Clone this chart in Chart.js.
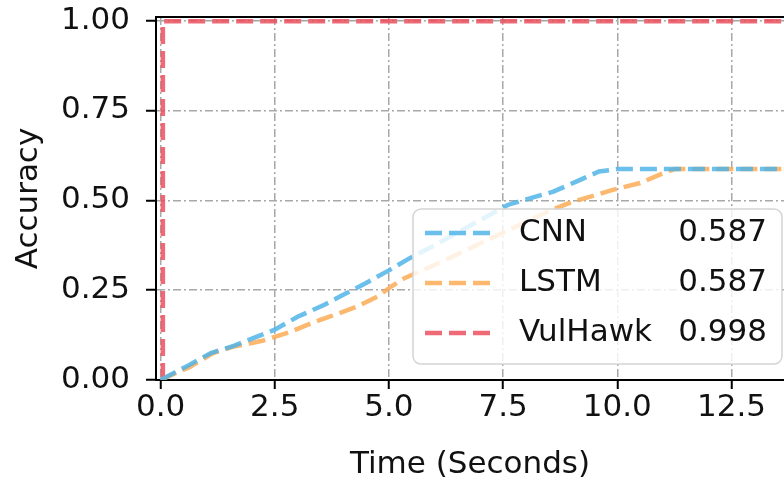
<!DOCTYPE html>
<html>
<head>
<meta charset="utf-8">
<script src="https://cdn.jsdelivr.net/npm/chart.js@4.4.1/dist/chart.umd.min.js"></script>
<style>
  body { margin: 0; background: #fff; }
  #wrap { width: 784px; height: 480px; }
</style>
</head>
<body>
<div id="wrap"><canvas id="accChart" width="784" height="480"></canvas></div>
<script>
// Séries (temps en secondes, précision)
const modelNames = ['CNN', 'LSTM', 'VulHawk'];
const finalAcc = [0.587, 0.587, 0.998];

const cnnTime = [0, 0.6, 1.1, 1.6, 2.0, 2.5, 3.0, 3.6, 4.0, 4.5, 5.0, 5.4, 6.0, 6.5, 7.0, 7.6, 8.1, 8.6, 9.1, 9.6, 10.0, 14.0];
const cnnAcc = [0, 0.04, 0.075, 0.095, 0.115, 0.14, 0.176, 0.21, 0.237, 0.27, 0.305, 0.335, 0.375, 0.41, 0.445, 0.487, 0.506, 0.524, 0.552, 0.58, 0.587, 0.587];

const lstmTime = [0, 0.65, 1.15, 1.6, 2.0, 2.25, 2.5, 2.85, 3.3, 3.7, 4.3, 4.75, 5.05, 5.35, 6.0, 6.5, 7.0, 7.5, 8.0, 8.5, 9.0, 9.3, 9.9, 10.5, 11.0, 11.25, 14.0];
const lstmAcc = [0, 0.037, 0.075, 0.093, 0.103, 0.11, 0.12, 0.134, 0.158, 0.176, 0.204, 0.232, 0.26, 0.284, 0.32, 0.35, 0.38, 0.41, 0.44, 0.47, 0.495, 0.506, 0.529, 0.548, 0.575, 0.587, 0.587];

const vulTime = [0.05, 0.05, 14.0];
const vulAcc = [0, 0.998, 0.998];

const xTicks = [0, 2.5, 5.0, 7.5, 10.0, 12.5];
const yTicks = [0, 0.25, 0.5, 0.75, 1.0];

const colors = ['rgba(80,180,232,0.85)', 'rgba(250,172,85,0.85)', 'rgba(236,80,95,0.85)'];

function toPoints(xs, ys) {
    return xs.map((x, i) => ({ x: x, y: ys[i] }));
}

const FONT = 'DejaVu Sans';

// Bordure du haut (le cadre de droite est coupé dans l'image)
const topBorder = {
    id: 'topBorder',
    afterDatasetsDraw(chart) {
        const { ctx, chartArea } = chart;
        ctx.save();
        ctx.strokeStyle = '#000';
        ctx.lineWidth = 2;
        ctx.beginPath();
        ctx.moveTo(chartArea.left - 1, chartArea.top);
        ctx.lineTo(chartArea.right, chartArea.top);
        ctx.stroke();
        ctx.restore();
    }
};

// Légende encadrée, avec la précision finale à droite
const boxLegend = {
    id: 'boxLegend',
    afterDatasetsDraw(chart) {
        const ctx = chart.ctx;
        const x = 413, y = 209, w = 369, h = 155;
        ctx.save();
        ctx.beginPath();
        ctx.roundRect(x, y, w, h, 8);
        ctx.fillStyle = 'rgba(255,255,255,0.82)';
        ctx.fill();
        ctx.strokeStyle = '#d4d4d4';
        ctx.lineWidth = 1.5;
        ctx.stroke();

        ctx.font = '31px "' + FONT + '"';
        ctx.textBaseline = 'middle';
        chart.data.datasets.forEach((ds, i) => {
            const cy = y + 24 + i * 50;
            ctx.strokeStyle = ds.borderColor;
            ctx.lineWidth = ds.borderWidth;
            ctx.setLineDash(ds.borderDash);
            ctx.beginPath();
            ctx.moveTo(x + 12, cy);
            ctx.lineTo(x + 80, cy);
            ctx.stroke();
            ctx.setLineDash([]);
            ctx.fillStyle = '#111';
            ctx.textAlign = 'left';
            ctx.fillText(ds.label, x + 106, cy);
            ctx.textAlign = 'right';
            ctx.fillText(finalAcc[i].toFixed(3), x + 354, cy);
        });
        ctx.restore();
    }
};

const ctx = document.getElementById('accChart').getContext('2d');
new Chart(ctx, {
    type: 'line',
    data: {
        datasets: [
            { label: modelNames[0], data: toPoints(cnnTime, cnnAcc) },
            { label: modelNames[1], data: toPoints(lstmTime, lstmAcc) },
            { label: modelNames[2], data: toPoints(vulTime, vulAcc) }
        ].map((d, i) => Object.assign(d, {
            borderColor: colors[i],
            backgroundColor: colors[i],
            borderWidth: 4.5,
            borderDash: [17, 7],
            pointRadius: 0,
            tension: 0,
            fill: false
        }))
    },
    options: {
        responsive: false,
        animation: false,
        layout: { padding: { top: 17, right: 0, left: 0, bottom: 0 } },
        plugins: {
            legend: { display: false },
            tooltip: { enabled: false }
        },
        scales: {
            x: {
                type: 'linear',
                min: -0.1,
                max: 13.65,
                afterFit(scale) { scale.height = 100; scale.paddingRight = 0; },
                afterBuildTicks(scale) { scale.ticks = xTicks.map(v => ({ value: v })); },
                ticks: {
                    color: '#111',
                    font: { family: FONT, size: 31, lineHeight: 1 },
                    padding: 3,
                    maxRotation: 0,
                    autoSkip: false,
                    callback: v => Number(v).toFixed(1)
                },
                grid: {
                    color: '#a8a8a8',
                    lineWidth: 1.5,
                    drawTicks: true,
                    tickLength: 9,
                    tickColor: '#000',
                    tickWidth: 2
                },
                border: { display: true, color: '#000', width: 2, dash: [8, 3, 2, 3] },
                title: {
                    display: true,
                    text: 'Time (Seconds)',
                    color: '#111',
                    font: { family: FONT, size: 31, lineHeight: 1 },
                    padding: { top: 0, bottom: 0 }
                }
            },
            y: {
                type: 'linear',
                min: 0,
                max: 1.01,
                afterFit(scale) {
                    scale.width = 156;
                    scale.paddingTop = 0;
                    scale.paddingBottom = 0;
                },
                afterBuildTicks(scale) { scale.ticks = yTicks.map(v => ({ value: v })); },
                ticks: {
                    color: '#111',
                    font: { family: FONT, size: 31, lineHeight: 1 },
                    padding: 16,
                    autoSkip: false,
                    callback: v => Number(v).toFixed(2)
                },
                grid: {
                    color: '#a8a8a8',
                    lineWidth: 1.5,
                    drawTicks: true,
                    tickLength: 10,
                    tickColor: '#000',
                    tickWidth: 2
                },
                border: { display: true, color: '#000', width: 2, dash: [8, 3, 2, 3] },
                title: {
                    display: true,
                    text: 'Accuracy',
                    color: '#111',
                    font: { family: FONT, size: 31, lineHeight: 1 },
                    padding: { top: 13, bottom: 0 }
                }
            }
        }
    },
    plugins: [topBorder, boxLegend]
});
</script>
</body>
</html>
